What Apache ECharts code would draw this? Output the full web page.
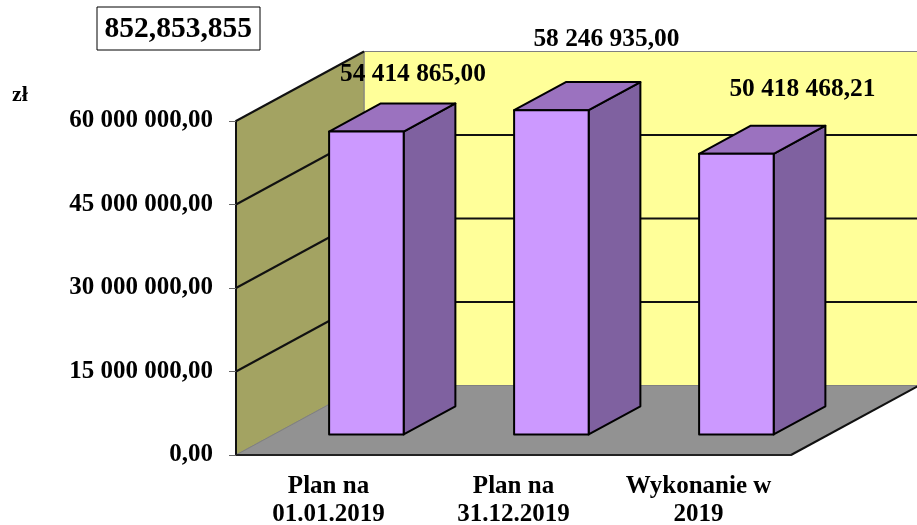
<!DOCTYPE html>
<html>
<head>
<meta charset="utf-8">
<style>
  html, body { margin: 0; padding: 0; background: #fff; }
  #chart { width: 917px; height: 525px; }
</style>
<script src="https://cdn.jsdelivr.net/npm/echarts@6/dist/echarts.min.js"></script>
</head>
<body>
<div id="chart"></div>
<script>
const categories = ['Plan na\n01.01.2019', 'Plan na\n31.12.2019', 'Wykonanie w\n2019']
const values = [54414865.00, 58246935.00, 50418468.21]
const yTicks = [0, 15000000, 30000000, 45000000, 60000000]
const boxText = '852,853,855'
const unitText = 'zł'

// 3d look: how far the back wall is pushed from the front plane
const DEPTH_X = 128
const DEPTH_Y = -69.5
const BAR_FRONT = 0.296
const BAR_BACK = 0.7
const BAR_WIDTH = 0.403
// data labels were dragged by hand in the original
const labelShift = [[46.6, -57.2], [55, -71.2], [66, -64.2]]

const FONT = '"Liberation Serif", "Times New Roman", serif'

const money = v => {
  const [whole, dec] = v.toFixed(2).split('.')
  return whole.replace(/\B(?=(\d{3})+$)/g, ' ') + ',' + dec
}

const poly = (points, fill, stroke, lineWidth) => ({
  type: 'polygon',
  shape: { points },
  style: { fill, stroke, lineWidth, lineJoin: 'round' }
})

const line = (a, b, stroke, lineWidth) => ({
  type: 'line',
  shape: { x1: a[0], y1: a[1], x2: b[0], y2: b[1] },
  style: { stroke, lineWidth }
})

const back = (p, f) => [p[0] + DEPTH_X * f, p[1] + DEPTH_Y * f]

// walls, floor and gridlines
const renderWalls = (params, api) => {
  const grid = params.coordSys
  const left = grid.x
  const right = grid.x + grid.width
  const y0 = api.coord([0, 0])[1]
  const yTop = api.coord([0, yTicks[yTicks.length - 1]])[1]

  const children = [
    poly([back([left, yTop], 1), back([right, yTop], 1), back([right, y0], 1), back([left, y0], 1)], '#ffff99', '#808080', 1),
    poly([[left, yTop], back([left, yTop], 1), back([left, y0], 1), [left, y0]], '#a3a362', '#808080', 1),
    poly([[left, y0], [right, y0], back([right, y0], 1), back([left, y0], 1)], '#929292', '#808080', 1)
  ]
  yTicks.slice(1).forEach((t, i) => {
    const y = api.coord([0, t])[1]
    if (i < yTicks.length - 2) {
      children.push(line(back([left, y], 1), back([right, y], 1), '#111', 2))
    }
    children.push(line([left, y], back([left, y], 1), '#111', 2))
  })
  children.push(line([right, y0], back([right, y0], 1), '#111', 2))
  return { type: 'group', children }
}

const renderBar = (params, api) => {
  const idx = api.value(0)
  const top = api.coord([idx, api.value(1)])
  const bottom = api.coord([idx, 0])
  const half = api.size([1, 0])[0] * BAR_WIDTH / 2

  const fl = back([top[0] - half, top[1]], BAR_FRONT)
  const fr = back([top[0] + half, top[1]], BAR_FRONT)
  const bl = back([top[0] - half, bottom[1]], BAR_FRONT)
  const br = back([top[0] + half, bottom[1]], BAR_FRONT)
  const span = BAR_BACK - BAR_FRONT

  const shift = labelShift[params.dataIndex]
  const front = (fl[0] + fr[0]) / 2

  return {
    type: 'group',
    children: [
      poly([br, back(br, span), back(fr, span), fr], '#7f61a0', '#000', 2),
      poly([fl, fr, back(fr, span), back(fl, span)], '#9b72bf', '#000', 2),
      poly([fl, fr, br, bl], '#cc99ff', '#000', 2),
      {
        type: 'text',
        z2: 10,
        style: {
          x: front + shift[0],
          y: fl[1] + shift[1],
          text: money(api.value(1)),
          align: 'center',
          verticalAlign: 'middle',
          fill: '#000',
          font: 'bold 25.4px ' + FONT
        }
      }
    ]
  }
}

const chart = echarts.init(document.getElementById('chart'))

chart.setOption({
  animation: false,
  backgroundColor: '#fff',
  title: [
    {
      text: boxText,
      left: 96.5,
      top: 6.5,
      padding: [8, 8, 6, 8],
      borderColor: '#000',
      borderWidth: 1,
      textStyle: { fontFamily: FONT, fontWeight: 'bold', fontSize: 29.5, color: '#000' }
    },
    {
      text: unitText,
      left: 12,
      top: 84,
      padding: 0,
      textStyle: { fontFamily: FONT, fontWeight: 'bold', fontSize: 22, color: '#000' }
    }
  ],
  grid: { left: 236, right: 126, top: 121, bottom: 70, outerBoundsMode: 'none' },
  xAxis: {
    type: 'category',
    data: categories,
    z: 5,
    axisLine: { lineStyle: { color: '#222', width: 2 } },
    axisTick: { length: 6, lineStyle: { color: '#666', width: 1 } },
    axisLabel: {
      margin: 18,
      interval: 0,
      lineHeight: 28,
      color: '#000',
      fontFamily: FONT,
      fontWeight: 'bold',
      fontSize: 25
    }
  },
  yAxis: {
    type: 'value',
    min: 0,
    max: 60000000,
    interval: 15000000,
    z: 5,
    splitLine: { show: false },
    axisLine: { show: true, lineStyle: { color: '#111', width: 2 } },
    axisTick: { show: true, length: 7, lineStyle: { color: '#666', width: 1 } },
    axisLabel: {
      margin: 23,
      padding: [8, 0, 0, 0],
      color: '#000',
      fontFamily: FONT,
      fontWeight: 'bold',
      fontSize: 25,
      formatter: v => money(v)
    }
  },
  series: [
    {
      type: 'custom',
      name: 'walls',
      data: [[0, 0]],
      encode: { x: 0, y: 1 },
      silent: true,
      z: 1,
      renderItem: renderWalls
    },
    {
      type: 'custom',
      name: 'values',
      data: values.map((v, i) => [i, v]),
      encode: { x: 0, y: 1 },
      z: 2,
      renderItem: renderBar
    }
  ]
})
</script>
</body>
</html>
